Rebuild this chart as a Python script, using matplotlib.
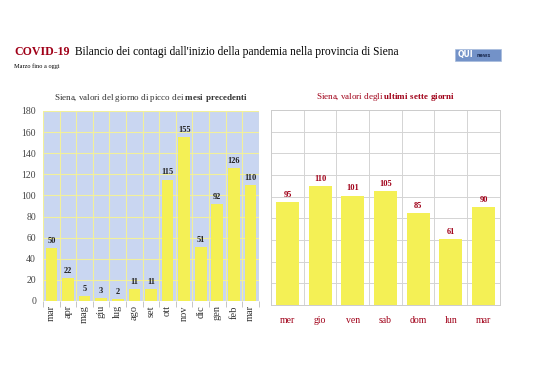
import matplotlib.pyplot as plt
import numpy as np

plt.rcParams['font.family'] = ['Liberation Serif', 'DejaVu Serif']
plt.rcParams['mathtext.fontset'] = 'custom'
plt.rcParams['mathtext.rm'] = 'Liberation Serif'
plt.rcParams['mathtext.bf'] = 'Liberation Serif:bold'

# dati
mesi = ['mar', 'apr', 'mag', 'giu', 'lug', 'ago', 'set', 'ott', 'nov', 'dic', 'gen', 'feb', 'mar']
picchi_mesi = [50, 22, 5, 3, 2, 11, 11, 115, 155, 51, 92, 126, 110]
giorni = ['mer', 'gio', 'ven', 'sab', 'dom', 'lun', 'mar']
ultimi_giorni = [95, 110, 101, 105, 85, 61, 90]
y_ticks = list(range(0, 181, 20))

giallo = '#f4f055'
rosso = '#a00018'

fig = plt.figure(figsize=(5.38, 3.80), dpi=100)
fig.patch.set_facecolor('white')

# titolo
fig.text(0.026, 0.855, 'COVID-19', fontsize=8.6, fontweight='bold', color=rosso, ha='left', va='baseline')
fig.text(0.139, 0.855, 'Bilancio dei contagi dall\'inizio della pandemia nella provincia di Siena',
         fontsize=8.3, color='black', ha='left', va='baseline')
fig.text(0.026, 0.822, 'Marzo fino a oggi', fontsize=4.5, color='black', ha='left', va='baseline')

# logo
fig.patches.append(plt.Rectangle((0.846, 0.840), 0.085, 0.031, transform=fig.transFigure,
                                 facecolor='#7392c8', edgecolor='#a8bcdc', lw=0.5))
fig.text(0.851, 0.856, 'QUI', fontsize=5.5, fontweight='bold', color='white',
         ha='left', va='center', family='DejaVu Sans')
fig.text(0.886, 0.853, 'news', fontsize=3.5, fontweight='bold', color='#1f2f55',
         ha='left', va='center', family='DejaVu Sans')

# grafico sinistro
ax1 = fig.add_axes([0.080, 0.208, 0.401, 0.500])
x1 = np.arange(len(mesi))
ax1.set_facecolor('#c9d6f1')
ax1.bar(x1, picchi_mesi, width=0.7, color=giallo, zorder=3)
for xi, v in zip(x1, picchi_mesi):
    ax1.text(xi, v + 3, str(v), ha='center', va='bottom', fontsize=6, fontweight='bold', color='#222222')
ax1.set_xlim(-0.5, len(mesi) - 0.5)
ax1.set_ylim(0, 180)
ax1.set_yticks(y_ticks)
ax1.set_xticks(x1)
ax1.set_xticklabels(mesi, rotation=90, fontsize=7.5, color='#333333')
ax1.set_xticks(np.arange(-0.5, len(mesi)), minor=True)
ax1.tick_params(axis='y', labelsize=7, colors='#444444', length=0, pad=5)
ax1.tick_params(axis='x', which='major', length=0, pad=3)
ax1.tick_params(axis='x', which='minor', length=4, color='#bbbbbb')
ax1.grid(axis='y', color='#f2f09a', lw=0.8, zorder=1)
ax1.grid(axis='x', which='minor', color='#f2f09a', lw=0.8, zorder=1)
for s in ax1.spines.values():
    s.set_visible(False)
ax1.set_title('Siena, valori del giorno di picco dei $\\mathbf{mesi\\ precedenti}$', fontsize=6.5,
              color='#333333', pad=8)

# grafico destro
ax2 = fig.add_axes([0.504, 0.197, 0.425, 0.514])
x2 = np.arange(len(giorni))
ax2.bar(x2, ultimi_giorni, width=0.7, color=giallo, zorder=3)
for xi, v in zip(x2, ultimi_giorni):
    ax2.text(xi, v + 3, str(v), ha='center', va='bottom', fontsize=6, fontweight='bold', color=rosso)
ax2.set_xlim(-0.5, len(giorni) - 0.5)
ax2.set_ylim(0, 180)
ax2.set_yticks(y_ticks)
ax2.set_yticklabels([])
ax2.set_xticks(x2)
ax2.set_xticklabels(giorni, fontsize=7, color=rosso)
ax2.set_xticks(np.arange(-0.5, len(giorni)), minor=True)
ax2.tick_params(axis='y', length=0)
ax2.tick_params(axis='x', which='major', length=0, pad=8)
ax2.tick_params(axis='x', which='minor', length=0)
ax2.grid(axis='y', color='#d4d4d4', lw=0.7, zorder=1)
ax2.grid(axis='x', which='minor', color='#d4d4d4', lw=0.7, zorder=1)
for s in ax2.spines.values():
    s.set_color('#cccccc')
    s.set_linewidth(0.7)
ax2.set_title('Siena, valori degli $\\mathbf{ultimi\\ sette\\ giorni}$', fontsize=6.5, color=rosso, pad=8)

plt.savefig('out.png', dpi=100)
